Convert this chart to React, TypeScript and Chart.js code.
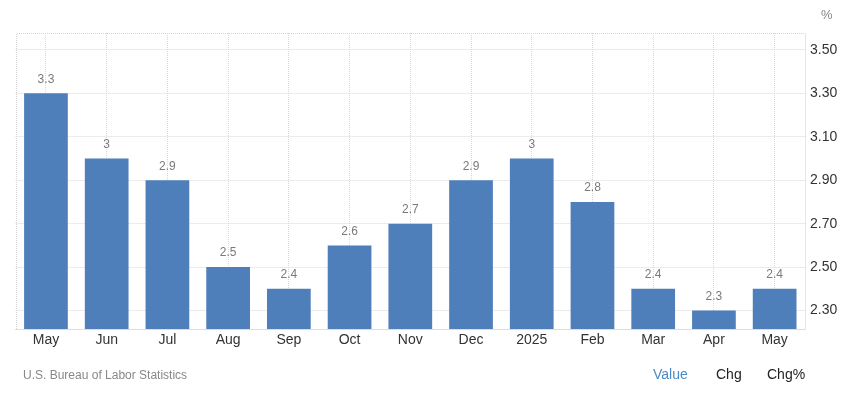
import React, { useEffect, useRef } from "react";
import { Chart, registerables } from "chart.js";

Chart.register(...registerables);

const categories = ["May", "Jun", "Jul", "Aug", "Sep", "Oct", "Nov", "Dec", "2025", "Feb", "Mar", "Apr", "May"];
const values = [3.3, 3, 2.9, 2.5, 2.4, 2.6, 2.7, 2.9, 3, 2.8, 2.4, 2.3, 2.4];
const yTicks = [2.3, 2.5, 2.7, 2.9, 3.1, 3.3, 3.5];
const unitLabel = "%";
const sourceText = "U.S. Bureau of Labor Statistics";
const tabs = ["Value", "Chg", "Chg%"];

const FONT = "'Liberation Sans', Arial, sans-serif";

const edgePlugin = {
  id: "edges",
  beforeDatasetsDraw(chart: any) {
    const { ctx, chartArea } = chart;
    ctx.save();
    ctx.strokeStyle = "#d4d4d4";
    ctx.lineWidth = 1;
    ctx.setLineDash([1, 1]);
    ctx.beginPath();
    ctx.moveTo(Math.round(chartArea.left) + 0.5, chartArea.bottom);
    ctx.lineTo(Math.round(chartArea.left) + 0.5, Math.round(chartArea.top) + 0.5);
    ctx.lineTo(chartArea.right, Math.round(chartArea.top) + 0.5);
    ctx.stroke();
    ctx.restore();
  },
};

const labelPlugin = {
  id: "barLabels",
  afterDatasetsDraw(chart: any) {
    const { ctx } = chart;
    const meta = chart.getDatasetMeta(0);
    ctx.save();
    ctx.fillStyle = "#7a7a7a";
    ctx.font = `12px ${FONT}`;
    ctx.textAlign = "center";
    ctx.textBaseline = "middle";
    meta.data.forEach((bar: any, i: number) => {
      ctx.fillText(String(values[i]), bar.x, bar.y - 14);
    });
    ctx.restore();
  },
};

export default function App() {
  const ref = useRef<HTMLCanvasElement | null>(null);

  useEffect(() => {
    if (!ref.current) return;
    const chart = new Chart(ref.current, {
      type: "bar",
      data: {
        labels: categories,
        datasets: [
          {
            data: values,
            backgroundColor: "#4f7fbb",
            barPercentage: 0.72,
            categoryPercentage: 1,
          },
        ],
      },
      options: {
        animation: false,
        responsive: false,
        maintainAspectRatio: false,
        layout: { padding: { left: 15.6, top: 33, right: 0, bottom: 0 } },
        plugins: { legend: { display: false }, tooltip: { enabled: false } },
        scales: {
          x: {
            grid: {
              offset: false,
              color: "#d8d8d8",
              drawTicks: false,
            } as any,
            border: { display: true, color: "#dddddd", dash: [1, 1] },
            ticks: { color: "#333333", font: { size: 14, family: FONT }, padding: 3 },
            afterFit: (s: any) => {
              s.height = 64;
            },
          },
          y: {
            position: "right",
            min: 2.215,
            max: 3.578,
            afterBuildTicks: (s: any) => {
              s.ticks = yTicks.map((v) => ({ value: v }));
            },
            grid: { color: "#d8d8d8", drawTicks: false },
            border: { display: true, color: "#e6e6e6", dash: [1, 1] },
            ticks: {
              color: "#333333",
              font: { size: 14, family: FONT },
              padding: 5,
              callback: (v: any) => Number(v).toFixed(2),
            },
            afterFit: (s: any) => {
              s.width = 844 - 805;
            },
          },
        },
      },
      plugins: [edgePlugin, labelPlugin],
    });
    return () => chart.destroy();
  }, []);

  return (
    <div style={{ position: "fixed", left: 0, top: 0, width: 844, height: 393, background: "#fff", fontFamily: FONT }}>
      <canvas ref={ref} width={844} height={393} style={{ display: "block" }} />
      <div style={{ position: "absolute", left: 821, top: 7, fontSize: 13, color: "#888" }}>{unitLabel}</div>
      <div style={{ position: "absolute", left: 23, top: 368, fontSize: 12, color: "#888" }}>{sourceText}</div>
      <div style={{ position: "absolute", left: 653, top: 366, fontSize: 14, color: "#4b8ac6" }}>{tabs[0]}</div>
      <div style={{ position: "absolute", left: 716, top: 366, fontSize: 14, color: "#222" }}>{tabs[1]}</div>
      <div style={{ position: "absolute", left: 767, top: 366, fontSize: 14, color: "#222" }}>{tabs[2]}</div>
    </div>
  );
}
